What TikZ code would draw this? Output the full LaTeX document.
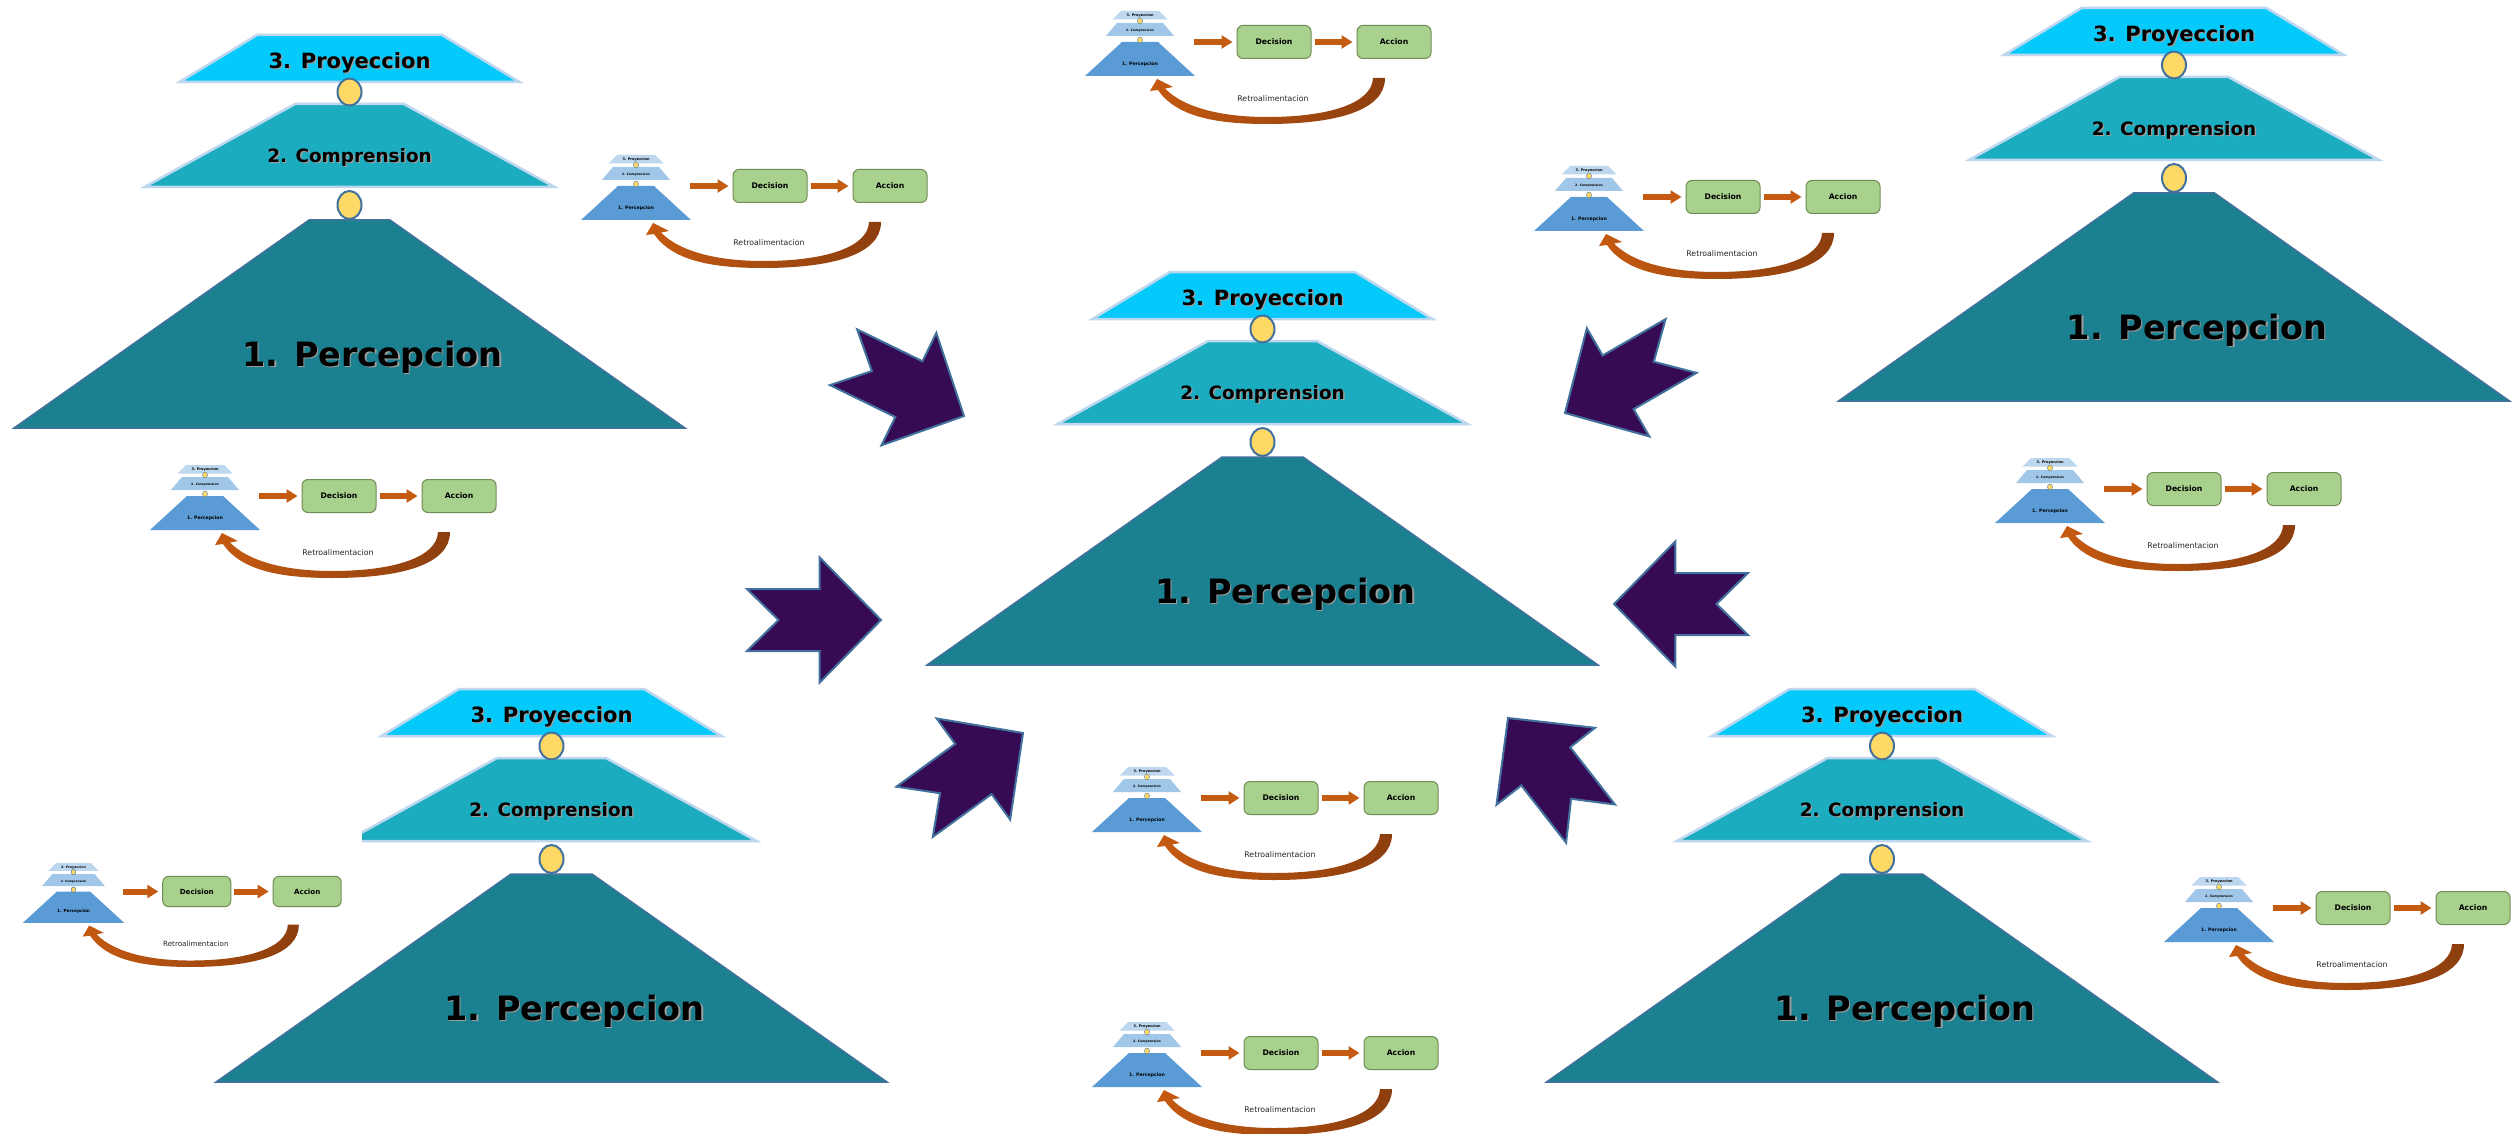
\documentclass[tikz,border=0pt]{standalone}
\usepackage{fontspec}
\setmainfont{DejaVu Sans}
\usetikzlibrary{arrows.meta}

\definecolor{projfill}{RGB}{3,202,250}
\definecolor{compfill}{RGB}{27,172,192}
\definecolor{percfill}{RGB}{27,128,143}
\definecolor{paleedge}{RGB}{189,215,238}
\definecolor{steeledge}{RGB}{65,113,156}
\definecolor{ovalfill}{RGB}{255,217,102}
\definecolor{sproj}{RGB}{189,215,238}
\definecolor{scomp}{RGB}{160,198,232}
\definecolor{sperc}{RGB}{91,155,213}
\definecolor{boxfill}{RGB}{169,209,142}
\definecolor{boxedge}{RGB}{112,140,85}
\definecolor{flow}{RGB}{197,90,17}
\definecolor{flowdark}{RGB}{140,62,14}
\definecolor{flowlight}{RGB}{226,180,150}
\definecolor{bigarrowfill}{RGB}{54,10,85}

% text with a soft drop shadow
\newcommand{\shadowed}[1]{\makebox[0pt][l]{\hspace*{1.4pt}\raisebox{-1.4pt}{\color{black!38}#1}}#1}

\tikzset{
  bigtier/.style={draw=paleedge, line width=2.5pt, line join=miter},
  basetier/.style={fill=percfill, draw=steeledge, line width=1.5pt, line join=miter},
  joint/.style={fill=ovalfill, draw=steeledge, line width=2pt},
  smalljoint/.style={fill=ovalfill, draw=steeledge, line width=0.4pt},
  tiertext/.style={inner sep=0pt, text=black},
  stepbox/.style={rectangle, rounded corners=6pt, fill=boxfill, draw=boxedge,
    line width=1pt, minimum width=74pt, minimum height=33pt, inner sep=0pt,
    font=\bfseries\fontsize{7.7}{9}\selectfont},
  flowarrow/.style={draw=flow, line width=6pt,
    -{Triangle[length=11pt,width=13pt]}},
  feedback/.style={left color=flow, middle color=flowlight, right color=flowdark},
  fbtext/.style={inner sep=0pt, text=black!85, font=\fontsize{7.8}{9}\selectfont},
  pointer/.style={fill=bigarrowfill, draw=steeledge, line width=2pt, line join=miter},
}

% large three-tier pyramid: name, centre x, top y, left clip (local x)
\newcommand{\bigpyramid}[4]{%
\begin{scope}[shift={(#2,#3)}]
  \path[bigtier, fill=projfill] (-170,47) -- (-92.5,0) -- (92.5,0) -- (170,47) -- cycle;
  \begin{scope}
    \clip (#4,60) rectangle (400,170);
    \path[bigtier, fill=compfill] (-205,152) -- (-54.5,69) -- (54.5,69) -- (205,152) -- cycle;
  \end{scope}
  \path[basetier] (-335.5,393) -- (-40.5,185) -- (40.5,185) -- (335.5,393) -- cycle;
  \path[joint] (0,57) ellipse [x radius=12, y radius=13.5];
  \path[joint] (0,170) ellipse [x radius=12, y radius=14];
  \node[tiertext, font=\bfseries\fontsize{21}{25}\selectfont] (#1-proj) at (0,28.5) {\shadowed{3. Proyeccion}};
  \node[tiertext, font=\bfseries\fontsize{18.4}{22}\selectfont] (#1-comp) at (0,123) {\shadowed{2. Comprension}};
  \node[tiertext, font=\bfseries\fontsize{33.5}{40}\selectfont] (#1-perc) at (23,323) {\shadowed{1. Percepcion}};
\end{scope}}

% small loop diagram: name, pyramid centre x, top y, scale
\newcommand{\smalldiagram}[4]{%
\begin{scope}[shift={(#2,#3)}, scale=#4, transform shape]
  \path[fill=sproj] (-27.5,8.5) -- (-19,0) -- (19,0) -- (27.5,8.5) -- cycle;
  \path[fill=scomp] (-34,25) -- (-23,12) -- (23,12) -- (34,25) -- cycle;
  \path[fill=sperc] (-55,65) -- (-18,31) -- (18,31) -- (55,65) -- cycle;
  \path[smalljoint] (0,10) ellipse [x radius=2.5, y radius=3];
  \path[smalljoint] (0,29) ellipse [x radius=2.5, y radius=3];
  \node[tiertext, font=\bfseries\fontsize{3.5}{4}\selectfont] (#1-proj) at (0,4.5) {3. Proyeccion};
  \node[tiertext, font=\bfseries\fontsize{3.1}{4}\selectfont] (#1-comp) at (0,20) {2. Comprension};
  \node[tiertext, font=\bfseries\fontsize{4.6}{5}\selectfont] (#1-perc) at (0,53) {1. Percepcion};
  \node[stepbox] (#1-dec) at (134,31) {Decision};
  \node[stepbox] (#1-acc) at (254,31) {Accion};
  \coordinate (#1-out) at (54,31);
  \draw[flowarrow, shorten >=4pt] (#1-out) -- (#1-dec);
  \draw[flowarrow, shorten <=3pt, shorten >=4pt] (#1-dec) -- (#1-acc);
  \path[feedback] (233,67) .. controls (232,92) and (190,106) .. (127,106)
     .. controls (85,106) and (45,98) .. (25,77.5)
     -- (33,76) -- (17,68) -- (10,80) -- (18,79)
     .. controls (37,107) and (80,113) .. (127,113)
     .. controls (195,113) and (245,100) .. (245,67) -- cycle;
  \node[fbtext] (#1-fb) at (133,88) {Retroalimentacion};
\end{scope}}

% notched block arrow: tip x, tip y, direction angle
\newcommand{\pointerarrow}[3]{%
\begin{scope}[shift={(#1,#2)}, rotate=#3]
  \path[pointer] (0,0) -- (-61.3,-62.5) -- (-61.3,-31) -- (-134,-31) -- (-102.5,0)
     -- (-134,31) -- (-61.3,31) -- (-61.3,62.5) -- cycle;
\end{scope}}

\begin{document}
\begin{tikzpicture}[x=1pt, y=-1pt]
  \fill[white] (0,0) rectangle (2514,1134);
  \useasboundingbox (0,0) rectangle (2514,1134);

  \bigpyramid{tl}{349.5}{35}{-400}
  \bigpyramid{mid}{1262.5}{272}{-400}
  \bigpyramid{tr}{2174}{8}{-400}
  \bigpyramid{bl}{551.5}{689}{-189.5}
  \bigpyramid{br}{1882}{689}{-400}

  \smalldiagram{la}{1140}{11}{1}
  \smalldiagram{lb}{636}{155}{1}
  \smalldiagram{lc}{205}{465}{1}
  \smalldiagram{ld}{1589}{166}{1}
  \smalldiagram{le}{2050}{458}{1}
  \smalldiagram{lf}{73.5}{863}{0.92}
  \smalldiagram{lg}{1147}{767}{1}
  \smalldiagram{lh}{1147}{1022}{1}
  \smalldiagram{li}{2219}{877}{1}

  \pointerarrow{964}{416}{-26}
  \pointerarrow{1565}{413}{210}
  \pointerarrow{881}{620}{0}
  \pointerarrow{1614}{604}{180}
  \pointerarrow{1023}{733}{36}
  \pointerarrow{1508}{718}{128}
\end{tikzpicture}
\end{document}
